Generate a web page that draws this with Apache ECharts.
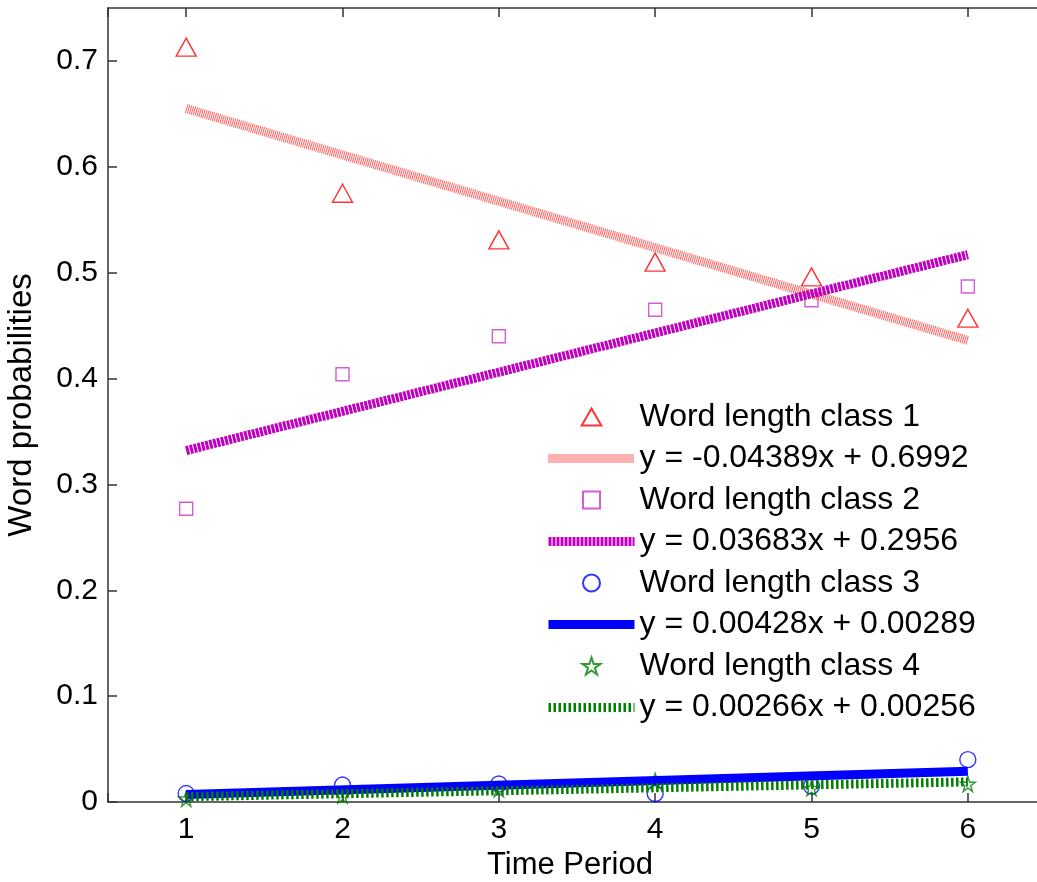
<!DOCTYPE html>
<html>
<head>
<meta charset="utf-8">
<title>Word probabilities</title>
<script src="https://cdn.jsdelivr.net/npm/echarts@6/dist/echarts.min.js"></script>
<style>
  html, body { margin: 0; padding: 0; background: #fff; }
  #chart { width: 1037px; height: 882px; }
</style>
</head>
<body>
<div id="chart"></div>
<script>
const periods = [1, 2, 3, 4, 5, 6];

// observed word probabilities per time period
const class1 = [0.713, 0.575, 0.531, 0.510, 0.496, 0.457];
const class2 = [0.277, 0.404, 0.440, 0.465, 0.474, 0.487];
const class3 = [0.008, 0.016, 0.017, 0.008, 0.015, 0.040];
const class4 = [0.003, 0.006, 0.012, 0.020, 0.013, 0.017];

// fitted trend line endpoints (at period 1 and period 6)
const trendX = [1, 6];
const trend1 = [0.655, 0.436];
const trend2 = [0.332, 0.517];
const trend3 = [0.007, 0.029];
const trend4 = [0.005, 0.019];

const classNames = ['Word length class 1', 'Word length class 2', 'Word length class 3', 'Word length class 4'];
const trendNames = ['y = -0.04389x + 0.6992', 'y = 0.03683x + 0.2956', 'y = 0.00428x + 0.00289', 'y = 0.00266x + 0.00256'];

const FONT = 'Liberation Sans, Arial, sans-serif';
const STAR = 'path://M100,0 L122.45,69.1 L195.1,69.1 L136.3,111.8 L158.8,180.9 L100,138.2 L41.2,180.9 L63.7,111.8 L4.9,69.1 L77.55,69.1 Z';
// path versions keep their aspect inside the wide legend slot
const TRI_ICON = 'path://M11,0 L22,19 L0,19 Z';
const RECT_ICON = 'path://M0,0 L14,0 L14,14 L0,14 Z';
const CIRCLE_ICON = 'path://M0,10 A10,10 0 1,1 20,10 A10,10 0 1,1 0,10 Z';

const toPoints = (xs, ys) => xs.map((x, i) => [x, ys[i]]);

function scatterSeries(name, values, symbol, size, color) {
  return {
    name,
    type: 'scatter',
    data: toPoints(periods, values),
    symbol,
    symbolSize: size,
    itemStyle: { color: 'rgba(0,0,0,0)', borderColor: color, borderWidth: 1.4 },
    z: 2
  };
}

function trendSeries(name, values, color, dash) {
  return {
    name,
    type: 'line',
    data: toPoints(trendX, values),
    symbol: 'none',
    color,
    lineStyle: { color, width: 9, type: dash, cap: 'butt' },
    z: 3
  };
}

const markerItem = (name, icon) => ({ name, icon });
const lineItem = name => ({ name, itemStyle: { opacity: 0 } });

const axisLabelFont = { fontFamily: FONT, fontSize: 30, color: '#000' };
const axisLineStyle = { color: '#333', width: 1.5 };

const option = {
  animation: false,
  textStyle: { fontFamily: FONT },
  grid: { left: 108, top: 8, width: 938, bottom: 80, outerBoundsMode: 'none', containLabel: false },
  legend: {
    orient: 'vertical',
    left: 544,
    top: 401,
    padding: 0,
    itemWidth: 86,
    itemHeight: 17,
    itemGap: 9.5,
    selectedMode: false,
    lineStyle: { width: 'inherit', type: 'inherit' },
    textStyle: { fontSize: 32, color: '#000', fontFamily: FONT },
    data: [
      markerItem(classNames[0], TRI_ICON),
      lineItem(trendNames[0]),
      markerItem(classNames[1], RECT_ICON),
      lineItem(trendNames[1]),
      markerItem(classNames[2], CIRCLE_ICON),
      lineItem(trendNames[2]),
      markerItem(classNames[3], STAR),
      lineItem(trendNames[3])
    ]
  },
  xAxis: [
    {
      type: 'value',
      min: 0.5,
      max: 6.5,
      minInterval: 1,
      maxInterval: 1,
      name: 'Time Period',
      nameLocation: 'middle',
      nameGap: 44,
      nameTextStyle: { fontFamily: FONT, fontSize: 31, color: '#000', padding: [0, 14, 0, 0] },
      axisLine: { onZero: false, lineStyle: axisLineStyle },
      axisTick: { inside: true, length: 9, lineStyle: axisLineStyle },
      axisLabel: {
        ...axisLabelFont,
        margin: 13,
        formatter: v => (Number.isInteger(v) ? String(v) : '')
      },
      splitLine: { show: false }
    },
    {
      type: 'value',
      position: 'top',
      min: 0.5,
      max: 6.5,
      minInterval: 1,
      maxInterval: 1,
      axisLine: { onZero: false, lineStyle: axisLineStyle },
      axisTick: { inside: true, length: 9, lineStyle: axisLineStyle },
      axisLabel: { show: false },
      splitLine: { show: false }
    }
  ],
  yAxis: {
    type: 'value',
    min: 0,
    max: 0.75,
    interval: 0.1,
    name: 'Word probabilities',
    nameLocation: 'middle',
    nameGap: 70,
    nameTextStyle: { fontFamily: FONT, fontSize: 33, color: '#000' },
    axisLine: { show: true, lineStyle: axisLineStyle },
    axisTick: { inside: true, length: 9, lineStyle: axisLineStyle },
    axisLabel: { ...axisLabelFont, margin: 10, showMaxLabel: false },
    splitLine: { show: false }
  },
  series: [
    scatterSeries(classNames[0], class1, 'triangle', [20, 18], '#ff0000'),
    trendSeries(trendNames[0], trend1, '#ff6060', [1, 1]),
    scatterSeries(classNames[1], class2, 'rect', 13, '#cc33cc'),
    trendSeries(trendNames[1], trend2, '#bf00bf', [3, 1]),
    scatterSeries(classNames[2], class3, 'circle', 16, '#0000ff'),
    trendSeries(trendNames[2], trend3, '#0000ff', 'solid'),
    scatterSeries(classNames[3], class4, STAR, 15, '#008000'),
    trendSeries(trendNames[3], trend4, '#008000', [2.5, 2.5])
  ]
};

const chart = echarts.init(document.getElementById('chart'), null, { renderer: 'canvas' });
chart.setOption(option);
</script>
</body>
</html>
